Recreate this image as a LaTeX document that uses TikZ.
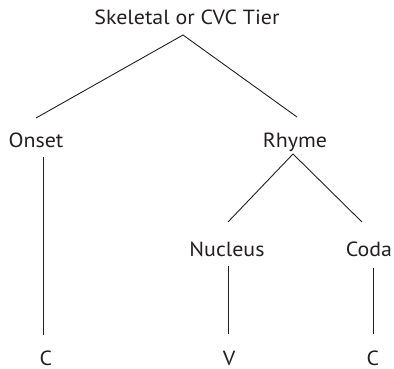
\documentclass[tikz,border=0pt]{standalone}
\usepackage{fontspec}
\setmainfont{PT Sans}[FakeStretch=1.07]
\definecolor{ink}{HTML}{231F20}
\begin{document}
\begin{tikzpicture}[x=1pt,y=-1pt,
  lbl/.style={inner sep=0pt, anchor=base, font=\fontsize{20.5}{22}\selectfont, text=ink},
  edge/.style={draw=ink, line width=0.9pt}]
\useasboundingbox (0,0) rectangle (394,369);
% labels of the syllable tree (placed by baseline)
\node[lbl] (tier)    at (187,25)  {Skeletal or CVC Tier};
\node[lbl] (onset)   at (36,147)  {Onset};
\node[lbl] (rhyme)   at (295,147) {Rhyme};
\node[lbl] (nucleus) at (227,256) {Nucleus};
\node[lbl] (coda)    at (369,256) {Coda};
\node[lbl] (c1)      at (46,365)  {C};
\node[lbl] (v)       at (229,365) {V};
\node[lbl] (c2)      at (373,365) {C};
% branch ends
\coordinate (tierB)  at (183,35);
\coordinate (onT)    at (36,118);
\coordinate (rhT)    at (297,117);
\coordinate (onB)    at (43,157);
\coordinate (rhB)    at (293,154);
\coordinate (nuT)    at (228,222);
\coordinate (coT)    at (362,222);
\coordinate (nuB)    at (228,266);
\coordinate (coB)    at (373,268);
\coordinate (c1T)    at (43,335);
\coordinate (vT)     at (228,334);
\coordinate (c2T)    at (373,334);
% branches
\draw[edge] (onT) -- (tierB) -- (rhT);
\draw[edge] (onB) -- (c1T);
\draw[edge] (nuT) -- (rhB) -- (coT);
\draw[edge] (nuB) -- (vT);
\draw[edge] (coB) -- (c2T);
\end{tikzpicture}
\end{document}
